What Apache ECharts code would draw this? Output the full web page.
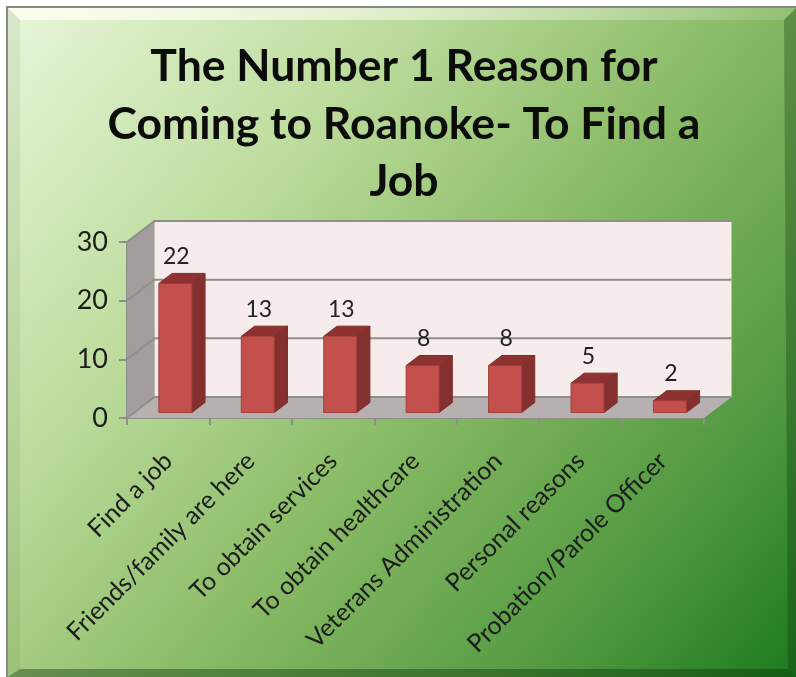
<!DOCTYPE html>
<html><head><meta charset="utf-8">
<style>html,body{margin:0;padding:0;background:#fff}#c{width:796px;height:677px}</style>
<script src="https://cdn.jsdelivr.net/npm/echarts@6/dist/echarts.min.js"></script>
</head><body><div id="c"></div>
<script>
const titleText = 'The Number 1 Reason for\nComing to Roanoke- To Find a\nJob';
const categories = ['Find a job','Friends/family are here','To obtain services','To obtain healthcare','Veterans Administration','Personal reasons','Probation/Parole Officer'];
const values = [22,13,13,8,8,5,2];
const gridValues = [0,10,20,30];

const W = 796, H = 677;
const DX = 27.5, DY = -21;
const grey = '#8e8f88';
const font = 'Lato';
const chart = echarts.init(document.getElementById('c'), null, {renderer:'canvas'});

function poly(points, fill, stroke, lw){
  return {type:'polygon', shape:{points}, style:{fill, stroke:stroke||null, lineWidth:lw||0}, silent:true};
}
function renderWalls(params, api){
  const v = api.value(1);
  const cs = params.coordSys;
  const l = cs.x, r = cs.x + cs.width, b = cs.y + cs.height, t = cs.y;
  const children = [];
  const y = api.coord([0, v])[1];
  if (params.dataIndex === 0) {
    children.push(poly([[l+DX,t+DY],[r+DX,t+DY],[r+DX,b+DY],[l+DX,b+DY]], '#f6ecec'));
    children.push(poly([[l,t],[l+DX,t+DY],[l+DX,b+DY],[l,b]], '#a39e9d'));
    children.push(poly([[l,b],[l+DX,b+DY],[r+DX,b+DY],[r,b]], '#b7b0b0'));
  }
  children.push({type:'polyline', shape:{points:[[l,y],[l+DX,y+DY],[r+DX,y+DY]]}, style:{fill:null, stroke:grey, lineWidth:2}, silent:true});
  return {type:'group', children};
}
function renderBar(params, api){
  const i = api.value(0), v = api.value(1);
  const top = api.coord([i, v]), base = api.coord([i, 0]);
  const w = api.size([1,0])[0] * 0.4;
  const f = 0.26, d = 0.48;
  const ox = top[0] + DX*f - w/2, oy = DY*f;
  const x0 = ox, x1 = ox + w, yt = top[1] + oy, yb = base[1] + oy;
  const ddx = DX*d, ddy = DY*d;
  return {type:'group', children:[
    poly([[x0,yt],[x1,yt],[x1+ddx,yt+ddy],[x0+ddx,yt+ddy]], '#8e3231', '#7f2d2c', 1),
    poly([[x1,yt],[x1+ddx,yt+ddy],[x1+ddx,yb+ddy],[x1,yb]], '#84302f', '#7f2d2c', 1),
    {type:'rect', shape:{x:x0,y:yt,width:w,height:yb-yt}, style:{fill:'#c4504d', stroke:'#a33d3a', lineWidth:1}, silent:true},
    {type:'text', style:{text:String(v), x:x0+w/2+1, y:yt-27, align:'center', verticalAlign:'middle', font:'23px '+font, fill:'#222'}, silent:true}
  ]};
}
chart.setOption({
  animation:false,
  backgroundColor:'#ffffff',
  graphic:[
    {type:'rect', z:-10, silent:true, shape:{x:6,y:6,width:W-6,height:H-6},
      style:{fill:new echarts.graphic.LinearGradient(0,0,1,1,[
        {offset:0,color:'#e8f6da'},{offset:0.3,color:'#bcdc9c'},{offset:0.55,color:'#8abb66'},{offset:0.82,color:'#4f983f'},{offset:1,color:'#1c7a1e'}]), stroke:null}},
    {type:'polygon', z:-9, silent:true, shape:{points:[[8,8],[W,8],[W-12,20],[20,20]]},
      style:{fill:new echarts.graphic.LinearGradient(0,0,1,0,[{offset:0,color:'rgba(255,255,240,.85)'},{offset:1,color:'rgba(255,255,255,.12)'}])}},
    {type:'polygon', z:-9, silent:true, shape:{points:[[8,8],[20,20],[20,H-8],[8,H]]},
      style:{fill:'rgba(90,110,70,.10)'}},
    {type:'polygon', z:-9, silent:true, shape:{points:[[W,8],[W,H],[W-8,H-8],[W-12,20]]},
      style:{fill:'rgba(10,50,10,.3)'}},
    {type:'polygon', z:-9, silent:true, shape:{points:[[8,H],[W,H],[W-8,H-8],[20,H-8]]},
      style:{fill:'rgba(10,50,10,.4)'}},
    {type:'rect', z:-8, silent:true, shape:{x:7,y:7,width:W,height:H}, style:{fill:null, stroke:'#8a8a84', lineWidth:2}}
  ],
  title:{text:titleText, left:399, top:33, textAlign:'center',
    textStyle:{fontFamily:font, fontWeight:'bold', fontSize:44.5, lineHeight:57.5, color:'#0c0c0c'}},
  grid:{left:127, right:92, top:242, bottom:259, containLabel:false},
  xAxis:{type:'category', data:categories, boundaryGap:true,
    axisLine:{show:true, lineStyle:{color:grey, width:2}},
    axisTick:{show:true, alignWithLabel:false, length:7, lineStyle:{color:grey, width:2}},
    axisLabel:{rotate:45, interval:0, margin:39, fontFamily:font, fontSize:25, color:'#1c1c1c'}},
  yAxis:{type:'value', min:0, max:30, interval:10,
    axisLine:{show:true, lineStyle:{color:grey, width:2}},
    axisTick:{show:true, length:8, lineStyle:{color:grey, width:2}},
    splitLine:{show:false},
    axisLabel:{margin:19, fontFamily:font, fontSize:27, color:'#1c1c1c'}},
  series:[
    {type:'custom', coordinateSystem:'cartesian2d', z:1, renderItem:renderWalls, silent:true,
      data:gridValues.map(v=>[0,v]), encode:{x:0,y:1}},
    {type:'custom', coordinateSystem:'cartesian2d', z:3, renderItem:renderBar, silent:true,
      data:values.map((v,i)=>[i,v]), encode:{x:0,y:1}}
  ]
});
</script></body></html>
